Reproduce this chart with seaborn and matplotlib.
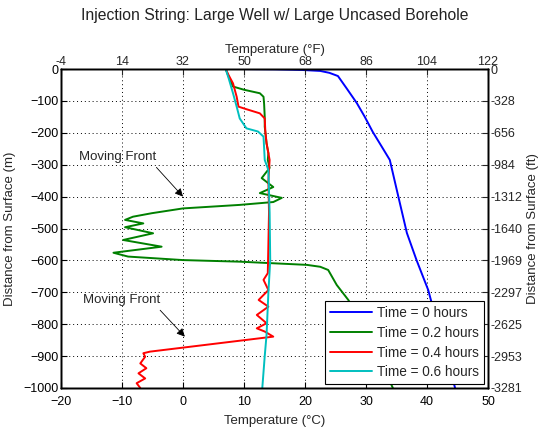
import matplotlib
matplotlib.use("Agg")
import matplotlib.pyplot as plt
import seaborn as sns

# ---------------- data ----------------
depth_ticks_m = [0, -100, -200, -300, -400, -500, -600, -700, -800, -900, -1000]
depth_labels_ft = ["0", "-328", "-656", "-984", "-1312", "-1640", "-1969", "-2297", "-2625", "-2953", "-3281"]
temp_ticks_c = [-20, -10, 0, 10, 20, 30, 40, 50]
temp_labels_f = ["-4", "14", "32", "50", "68", "86", "104", "122"]

t0_depth = [0, -1, -3, -6, -12, -22, -60, -107, -150, -197, -244, -285, -400, -514, -600, -693, -800, -900, -1000]
t0_temp = [9.0, 15.0, 19.5, 22.5, 24.0, 25.4, 26.8, 28.5, 29.8, 31.1, 32.6, 33.9, 35.3, 36.7, 38.3, 40.2, 41.7, 43.2, 44.6]

t02_depth = [0, -20, -34, -55, -65, -76, -87, -110, -150, -181, -233, -264, -285, -310, -342, -370, -389, -404,
             -417, -426, -437, -452, -463, -473, -484, -496, -515, -536, -557, -576, -588, -599, -604, -614,
             -620, -630, -677, -724, -800, -900, -1000]
t02_temp = [7.0, 7.4, 7.7, 8.2, 10.0, 12.6, 13.2, 13.3, 13.4, 13.4, 13.7, 14.0, 13.9, 14.2, 12.9, 14.8, 12.6, 16.2,
            14.8, 9.3, 0.0, -5.1, -8.2, -9.5, -6.5, -9.5, -4.9, -9.8, -3.5, -11.4, -9.0, 0.0, 9.3, 20.3,
            22.5, 23.8, 25.2, 27.1, 29.5, 32.0, 34.4]

t04_depth = [0, -20, -45, -87, -118, -126, -139, -155, -196, -233, -285, -350, -450, -550, -640, -661, -693, -724,
             -745, -771, -797, -813, -823, -839, -886, -891, -902, -923, -938, -954, -970, -985, -1000]
t04_temp = [7.0, 7.5, 8.2, 8.8, 9.1, 10.4, 12.6, 13.4, 13.5, 13.7, 14.2, 14.0, 14.1, 14.0, 13.9, 13.2, 14.0, 12.4,
            14.0, 12.1, 13.7, 12.1, 13.4, 14.8, -5.4, -6.5, -6.2, -7.0, -6.0, -7.3, -6.2, -7.6, -7.0]

t06_depth = [0, -30, -76, -118, -155, -186, -196, -212, -285, -317, -450, -600, -700, -833, -900, -1000]
t06_temp = [7.0, 7.5, 8.2, 8.8, 9.3, 10.4, 12.3, 13.2, 13.4, 14.0, 14.2, 14.3, 14.0, 13.7, 13.4, 13.0]

series_labels = ["Time = 0 hours", "Time = 0.2 hours", "Time = 0.4 hours", "Time = 0.6 hours"]
series_colors = ["#0000FF", "#008000", "#FF0000", "#00BFBF"]

# ---------------- figure ----------------
sns.set_style("white")
plt.rcParams["font.family"] = ["Liberation Sans", "DejaVu Sans"]

fig = plt.figure(figsize=(5.42, 4.30), dpi=100)
ax = fig.add_axes([0.1125, 0.0977, 0.7879, 0.7418])

series = [(t0_temp, t0_depth), (t02_temp, t02_depth), (t04_temp, t04_depth), (t06_temp, t06_depth)]
for (tx, dy), lab, col in zip(series, series_labels, series_colors):
    sns.lineplot(x=tx, y=dy, sort=False, estimator=None, color=col, label=lab, linewidth=1.4, ax=ax)

ax.set_xlim(-20, 50)
ax.set_ylim(-1000, 0)
ax.set_xticks(temp_ticks_c)
ax.set_yticks(depth_ticks_m)
ax.grid(True, color="black", linestyle=(0, (1, 3)), linewidth=0.7)
ax.set_xlabel("Temperature (°C)", fontsize=9.5, labelpad=5)
ax.set_ylabel("Distance from Surface (m)", fontsize=9.5, labelpad=5)
ax.tick_params(direction="in", length=4, labelsize=9, colors="black")
ax.tick_params(axis="x", pad=6)
ax.tick_params(axis="y", pad=2)
for s in ax.spines.values():
    s.set_color("black")
    s.set_linewidth(1.0)

handles, labels = ax.get_legend_handles_labels()
ax.get_legend().remove()

# top axis (°F)
ax_top = ax.twiny()
ax_top.set_xlim(ax.get_xlim())
ax_top.set_xticks(temp_ticks_c)
ax_top.set_xticklabels(temp_labels_f)
ax_top.set_xlabel("Temperature (°F)", fontsize=9.5, labelpad=2)
ax_top.tick_params(direction="in", length=4, labelsize=9, pad=1)

# right axis (ft)
ax_right = ax.twinx()
ax_right.set_ylim(ax.get_ylim())
ax_right.set_yticks(depth_ticks_m)
ax_right.set_yticklabels(depth_labels_ft)
ax_right.set_ylabel("Distance from Surface (ft)", fontsize=9.5, labelpad=3)
ax_right.tick_params(direction="in", length=4, labelsize=9, pad=2)
for a in (ax_top, ax_right):
    for s in a.spines.values():
        s.set_color("black")
        s.set_linewidth(1.0)

leg = ax_right.legend(handles, labels, loc="lower right", bbox_to_anchor=(0.991, 0.0125),
                      borderaxespad=0, fontsize=9.8, frameon=True, fancybox=False,
                      edgecolor="black", framealpha=1, handlelength=3.1, labelspacing=0.42,
                      borderpad=0.35, handletextpad=0.4)
leg.get_frame().set_linewidth(0.8)

arrow = dict(arrowstyle="-|>", color="black", lw=0.6, mutation_scale=12, relpos=(0.95, 0.0), shrinkA=1, shrinkB=0)
ax.annotate("Moving Front", xy=(0.0, -400), xytext=(-10.7, -276), ha="center", va="center",
            fontsize=9.5, arrowprops=arrow)
ax.annotate("Moving Front", xy=(0.3, -839), xytext=(-10.1, -724), ha="center", va="center",
            fontsize=9.5, arrowprops=arrow)

fig.text(0.506, 0.963, "Injection String: Large Well w/ Large Uncased Borehole", ha="center", va="center",
         fontsize=11.3, color="#222222")

fig.savefig("out.png", dpi=100)
